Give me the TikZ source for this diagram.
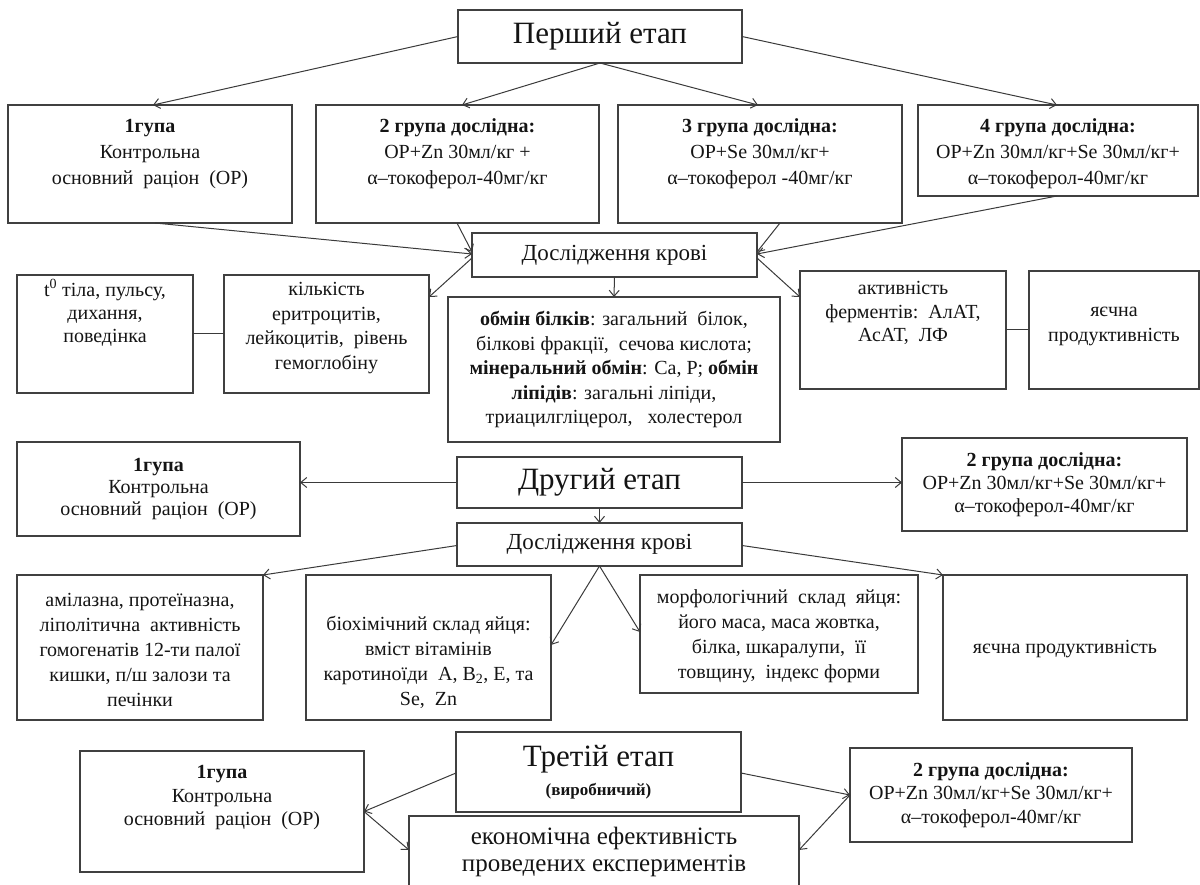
\documentclass[tikz,border=0pt]{standalone}
\usepackage{fontspec}
\setmainfont{Liberation Serif}
\usetikzlibrary{arrows.meta,calc}
\definecolor{linec}{HTML}{3A3A3A}
\definecolor{boxc}{HTML}{404040}
\definecolor{txtc}{HTML}{141414}
\begin{document}
\begin{tikzpicture}[x=1pt,y=-1pt,
  box/.style={draw=boxc,line width=1.3pt,inner sep=0pt,outer sep=0pt,text=txtc,align=center,font=\fontsize{20}{24.5}\selectfont},
  txt/.style={inner sep=0pt,align=center,text=txtc,font=\fontsize{20}{24.5}\selectfont},
  lead/.style={font=\fontsize{20}{#1}\selectfont},
  title/.style={font=\fontsize{31}{34}\selectfont},
  sub/.style={font=\fontsize{23}{26}\selectfont},
  conn/.style={draw=linec,line width=1pt,-{Straight Barb[length=6pt,width=10pt]}},
  link/.style={draw=linec,line width=1pt}]
\useasboundingbox (0,0) rectangle (1200,885);

% ---------- stage 1 ----------
\node[box,minimum width=284pt,minimum height=53pt,title] (p1) at (600,36.5) {Перший етап};

\node[box,minimum width=284pt,minimum height=118pt] (g1) at (150,164) {};
\node[txt,lead=26] (g1t) at (150,154) {\textbf{1гупа}\\Контрольна\\основний\ \ раціон\ \ (ОР)};
\node[box,minimum width=283pt,minimum height=118pt] (g2) at (457.5,164) {};
\node[txt,lead=26] (g2t) at (457.5,154) {\textbf{2 група дослідна:}\\ОР+Zn 30мл/кг +\\α–токоферол-40мг/кг};
\node[box,minimum width=284pt,minimum height=118pt] (g3) at (760,164) {};
\node[txt,lead=26] (g3t) at (760,154) {\textbf{3 група дослідна:}\\ОР+Se 30мл/кг+\\α–токоферол -40мг/кг};
\node[box,minimum width=280pt,minimum height=91pt] (g4) at (1058,150.5) {};
\node[txt,lead=26] (g4t) at (1058,154) {\textbf{4 група дослідна:}\\ОР+Zn 30мл/кг+Se 30мл/кг+\\α–токоферол-40мг/кг};

\node[box,minimum width=285pt,minimum height=44pt,sub] (d1) at (614.5,255) {Дослідження крові};

\node[box,minimum width=176pt,minimum height=118pt] (t0) at (105,334) {};
\node[txt,lead=23] (t0t) at (105,313) {t\textsuperscript{0} тіла, пульсу,\\дихання,\\поведінка};
\node[box,minimum width=205pt,minimum height=118pt] (k) at (326.5,334) {};
\node[txt,lead=24.5] (kt) at (326.5,328) {кількість\\еритроцитів,\\лейкоцитів,\ \ рівень\\гемоглобіну};
\node[box,minimum width=332pt,minimum height=145pt] (o) at (614,369.5) {\textbf{обмін білків}: загальний\ \ білок,\\білкові фракції,\ \ сечова кислота;\\\textbf{мінеральний обмін}: Ca, P; \textbf{обмін}\\\textbf{ліпідів}: загальні ліпіди,\\триацилгліцерол,\ \ \ холестерол};
\node[box,minimum width=206pt,minimum height=118pt] (a) at (903,330) {};
\node[txt,lead=23.5] (at) at (903,313) {активність\\ферментів:\ \ АлАТ,\\АсАТ,\ \ ЛФ};
\node[box,minimum width=170pt,minimum height=118pt] (y1) at (1114,330) {};
\node[txt,lead=25] (y1t) at (1114,326) {яєчна\\продуктивність};

% ---------- stage 2 ----------
\node[box,minimum width=285pt,minimum height=51pt,title] (s2) at (599.5,482.5) {Другий етап};
\node[box,minimum width=283pt,minimum height=94pt,lead=22] (h1) at (158.5,489) {\textbf{1гупа}\\Контрольна\\основний\ \ раціон\ \ (ОР)};
\node[box,minimum width=285pt,minimum height=93pt,lead=23] (h2) at (1044.5,484.5) {\textbf{2 група дослідна:}\\ОР+Zn 30мл/кг+Se 30мл/кг+\\α–токоферол-40мг/кг};
\node[box,minimum width=285pt,minimum height=43pt,sub] (d2) at (599.5,544.5) {Дослідження крові};

\node[box,minimum width=246pt,minimum height=145pt] (am) at (140,647.5) {};
\node[txt,lead=25] (amt) at (140,650) {амілазна, протеїназна,\\ліполітична\ \ активність\\гомогенатів 12-ти палої\\кишки, п/ш залози та\\печінки};
\node[box,minimum width=245pt,minimum height=145pt] (bi) at (428.5,647.5) {};
\node[txt,lead=25] (bit) at (428.5,662) {біохімічний склад яйця:\\вміст вітамінів\\каротиноїди\ \ А, В\textsubscript{2}, Е, та\\Se,\ \ Zn};
\node[box,minimum width=278pt,minimum height=118pt] (mo) at (779,634) {};
\node[txt,lead=25] (mot) at (779,636) {морфологічний\ \ склад\ \ яйця:\\його маса, маса жовтка,\\білка, шкаралупи,\ \ її\\товщину,\ \ індекс форми};
\node[box,minimum width=244pt,minimum height=145pt] (y2) at (1065,647.5) {};
\node[txt] (y2t) at (1065,649) {яєчна продуктивність};

% ---------- stage 3 ----------
\node[box,minimum width=285pt,minimum height=80pt] (s3) at (598.5,772) {};
\node[txt,title] (s3t) at (598.5,759) {Третій етап};
\node[txt,font=\fontsize{17}{20}\selectfont\bfseries] (s3s) at (598.5,791) {(виробничий)};
\node[box,minimum width=284pt,minimum height=121pt] (j1) at (222,811.5) {};
\node[txt,lead=23.5] (j1t) at (222,798) {\textbf{1гупа}\\Контрольна\\основний\ \ раціон\ \ (ОР)};
\node[box,minimum width=282pt,minimum height=94pt,lead=23.5] (j2) at (991,795) {\textbf{2 група дослідна:}\\ОР+Zn 30мл/кг+Se 30мл/кг+\\α–токоферол-40мг/кг};
\node[box,minimum width=390pt,minimum height=84pt] (e) at (604,858) {};
\node[txt,font=\fontsize{25}{27}\selectfont] (et) at (604,852) {економічна ефективність\\проведених експериментів};

% ---------- connectors ----------
\draw[conn] (p1.west) -- ([xshift=3pt]g1.north);
\draw[conn] (p1.south) -- ([xshift=4.5pt]g2.north);
\draw[conn] (p1.south) -- ([xshift=-2pt]g3.north);
\draw[conn] (p1.east) -- ([xshift=-1pt]g4.north);

\draw[conn] ([xshift=5pt]g1.south) -- ([yshift=1pt]d1.west);
\draw[conn] ([xshift=-0.5pt]g2.south) -- ([yshift=3pt]d1.west);
\draw[conn] ([xshift=20pt]g3.south) -- ([yshift=3pt]d1.east);
\draw[conn] ([xshift=-1pt]g4.south) -- ([yshift=1pt]d1.east);
\draw[conn] ([yshift=-3pt]d1.west) -- ([yshift=-22pt]k.north east);
\draw[conn] ([yshift=-3pt]d1.east) -- ([yshift=-26pt]a.north west);
\draw[conn] (d1.south) -- (o.north);
\draw[link] (t0.east) -- (k.west);
\draw[link] (a.east) -- (y1.west);

\draw[conn] (s2.west) -- (s2.west -| h1.east);
\draw[conn] (s2.east) -- (s2.east -| h2.west);
\draw[conn] (s2.south) -- (d2.north);
\draw[conn] ([yshift=-1pt]d2.west) -- (am.north east);
\draw[conn] ([yshift=-1pt]d2.east) -- (y2.north west);
\draw[conn] (d2.south) -- ([yshift=-70pt]bi.north east);
\draw[conn] (d2.south) -- ([yshift=-57pt]mo.north west);

\draw[conn] ([yshift=-1pt]s3.west) -- (j1.east);
\draw[conn] ([yshift=-1pt]s3.east) -- (j2.west);
\draw[conn] (j1.east) -- ([yshift=-34pt]e.north west);
\draw[conn] (j2.west) -- ([yshift=-34pt]e.north east);
\end{tikzpicture}
\end{document}
